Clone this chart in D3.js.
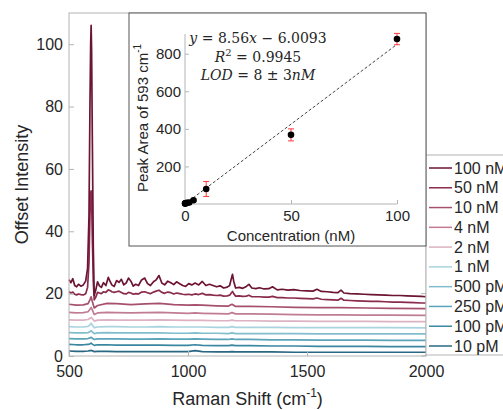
<!DOCTYPE html>
<html>
<head>
<meta charset="utf-8">
<script src="https://cdn.jsdelivr.net/npm/d3@7"></script>
<style>
  body { margin: 0; background: #fff; }
  text { fill: #262626; }
</style>
</head>
<body>
<div id="chart"></div>
<script>
// Raman shift grids (cm-1)
const shiftDense = [500,508,516,524,532,540,550,560,570,578,584,588,591,593,595,598,602,606,612,620,628,636,645,655,665,672,680,690,700,710,720,730,740,750,760,770,780,792,805,818,830,842,855,866,878,890,902,915,928,940,952,965,978,990,1003,1016,1030,1045,1060,1075,1090,1105,1120,1135,1150,1165,1175,1182,1187,1192,1200,1215,1230,1245,1256,1268,1285,1300,1320,1340,1355,1375,1395,1420,1445,1470,1500,1525,1542,1560,1585,1610,1630,1643,1655,1680,1710,1740,1770,1800,1830,1860,1890,1920,1950,1980,2000];
const shiftSparse = [500,530,560,580,588,593,598,606,620,660,700,760,820,880,940,1000,1030,1060,1120,1170,1185,1200,1260,1350,1450,1550,1640,1750,1850,2000];

// offset spectra
const spec100nM = [24.5,23.5,24.8,22.6,22.2,23.0,22.4,22.8,24.0,28,45,80,100,106,98,70,35,19.5,21,23.8,22.5,22.0,23.5,22.6,25.2,24.0,22.8,22.3,24.2,23.6,24.6,22.8,23.4,25.0,24.0,22.4,23.0,22.6,24.4,25.0,23.2,22.6,23.8,24.4,25.8,23.4,22.8,24.0,23.5,22.9,23.8,23.2,22.6,22.3,23.2,22.8,23.4,22.8,23.9,22.6,23.0,22.6,22.2,22.5,21.8,22.1,22.6,24.8,26.2,24.0,21.8,22.0,21.7,22.3,23.0,21.8,21.6,21.9,21.5,21.6,22.2,21.2,21.4,21.1,21.3,21.0,20.9,20.8,21.4,20.7,20.6,20.4,20.3,21.1,20.2,20.0,19.9,19.8,19.7,19.6,19.5,19.4,19.4,19.3,19.2,19.1,19.0];
const spec50nM = [20.6,20.2,20.5,19.8,19.6,19.9,19.7,19.6,20.0,22,30,45,52,53,50,38,24,18,18.8,20.4,20.2,20.0,20.6,20.4,21.2,21.0,20.6,20.4,20.6,20.8,20.4,20.0,19.9,20.4,20.2,19.8,20.0,19.9,20.5,20.6,20.3,20.0,20.5,20.8,21.1,20.4,20.1,20.5,20.3,19.9,20.2,20.0,19.8,19.7,19.8,19.6,19.9,19.7,20.1,19.6,19.7,19.5,19.4,19.5,19.2,19.3,19.5,20.2,20.7,20.0,19.2,19.3,19.1,19.2,19.5,19.0,19.0,19.0,18.9,18.9,19.1,18.7,18.7,18.6,18.6,18.5,18.4,18.3,18.6,18.2,18.1,18.0,17.9,18.5,17.9,17.8,17.7,17.6,17.5,17.5,17.4,17.3,17.3,17.2,17.1,17.0,17.0];
const spec10nM = [16.6,16.3,16.4,16.8,18.0,19.0,17.5,15.4,16.2,16.9,16.8,16.5,16.7,16.9,16.5,16.3,16.4,16.3,16.1,16.0,16.6,15.9,15.9,15.8,15.6,15.5,15.5,15.4,15.3,15.2];
const spec4nM = [14.0,13.8,13.9,14.2,15.0,15.6,14.8,13.3,13.8,14.0,13.9,13.8,13.9,14.0,13.8,13.7,13.8,13.7,13.6,13.5,13.9,13.5,13.5,13.4,13.3,13.2,13.2,13.1,13.1,13.0];
const spec2nM = [11.6,11.5,11.5,11.7,12.1,12.4,12.0,11.2,11.5,11.6,11.5,11.5,11.5,11.6,11.5,11.4,11.4,11.4,11.3,11.3,11.5,11.3,11.3,11.2,11.2,11.1,11.1,11.1,11.0,11.0];
const spec1nM = [9.4,9.3,9.3,9.5,10.0,10.5,9.9,9.1,9.3,9.4,9.4,9.3,9.3,9.4,9.3,9.3,9.3,9.3,9.2,9.2,9.4,9.2,9.2,9.2,9.1,9.1,9.1,9.1,9.1,9.0];
const spec500pM = [7.5,7.4,7.4,7.5,7.8,8.1,7.7,7.2,7.4,7.5,7.4,7.4,7.4,7.4,7.3,7.3,7.4,7.3,7.3,7.2,7.4,7.2,7.2,7.2,7.2,7.1,7.1,7.1,7.1,7.1];
const spec250pM = [5.6,5.5,5.5,5.6,5.8,6.0,5.7,5.3,5.5,5.5,5.5,5.4,5.4,5.5,5.4,5.4,5.5,5.4,5.3,5.3,5.5,5.3,5.3,5.2,5.2,5.1,5.1,5.1,5.0,5.0];
const spec100pM = [3.7,3.6,3.6,3.7,3.9,4.1,3.8,3.4,3.6,3.6,3.5,3.5,3.5,3.5,3.4,3.4,3.6,3.4,3.3,3.3,3.5,3.3,3.3,3.2,3.2,3.1,3.1,3.1,3.0,3.0];
const spec10pM = [1.6,1.5,1.5,1.6,1.7,1.8,1.7,1.4,1.5,1.5,1.4,1.4,1.4,1.4,1.4,1.4,1.7,1.4,1.3,1.3,1.4,1.3,1.3,1.3,1.2,1.2,1.2,1.2,1.2,1.2];

const seriesLabels = ['100 nM','50 nM','10 nM','4 nM','2 nM','1 nM','500 pM','250 pM','100 pM','10 pM'];
const seriesColors = ['#6c1434','#8a2b4d','#a6506f','#c07c94','#ddb2c2','#a9d3df','#82bdcd','#5ba4ba','#3b87a1','#2a6783'];
const xTicks = [500, 1000, 1500, 2000];
const yTicks = [0, 20, 40, 60, 80, 100];

// inset calibration
const insetConc = [0.01, 0.1, 0.25, 0.5, 1, 2, 4, 10, 50, 100];
const insetArea = [2, 3, 4, 5, 6, 8, 20, 80, 368, 878];
const insetErr = [3, 3, 3, 3, 4, 4, 6, 40, 32, 30];
const insetXTicks = [0, 50, 100];
const insetYTicks = [200, 400, 600, 800];
const fitSlope = 8.56;
const fitIntercept = -6.0093;

const sansFont = '"Liberation Sans", Arial, sans-serif';
const mathFont = '"DejaVu Serif", "Liberation Serif", serif';

const spectra = [
    { shift: shiftDense, values: spec100nM },
    { shift: shiftDense, values: spec50nM },
    { shift: shiftSparse, values: spec10nM },
    { shift: shiftSparse, values: spec4nM },
    { shift: shiftSparse, values: spec2nM },
    { shift: shiftSparse, values: spec1nM },
    { shift: shiftSparse, values: spec500pM },
    { shift: shiftSparse, values: spec250pM },
    { shift: shiftSparse, values: spec100pM },
    { shift: shiftSparse, values: spec10pM }
].map((s, i) => ({ label: seriesLabels[i], color: seriesColors[i], points: d3.zip(s.shift, s.values) }));

const width = 503, height = 410;
const frame = '#b4b4b4';

const svg = d3.select('#chart').append('svg')
    .attr('width', width).attr('height', height)
    .style('font-family', sansFont);

// main axes
const x = d3.scaleLinear().domain([500, 2000]).range([69, 426]);
const y = d3.scaleLinear().domain([0, 110]).range([356, 13]);

const line = d3.line().x(d => x(d[0])).y(d => y(d[1]));

// lowest series first so the top spectra sit on top
svg.append('g').selectAll('path')
    .data(spectra.slice().reverse())
    .join('path')
    .attr('d', d => line(d.points))
    .attr('fill', 'none')
    .attr('stroke', d => d.color)
    .attr('stroke-width', 1.7)
    .attr('stroke-linejoin', 'round');

function styleAxis(g, size) {
    g.select('.domain').remove();
    g.selectAll('.tick line').attr('stroke', frame);
    g.selectAll('.tick text').style('font-size', size + 'px').style('font-family', sansFont)
        .attr('fill', '#262626');
}

svg.append('g')
    .attr('transform', `translate(0,${y(0)})`)
    .call(d3.axisBottom(x).tickValues(xTicks).tickFormat(d3.format('d'))
        .tickSizeInner(-5).tickSizeOuter(0).tickPadding(10))
    .call(g => styleAxis(g, 16));

svg.append('g')
    .attr('transform', `translate(${x(500)},0)`)
    .call(d3.axisLeft(y).tickValues(yTicks).tickSizeInner(-5).tickSizeOuter(0).tickPadding(6))
    .call(g => styleAxis(g, 16));

// right ticks of the main box
svg.append('g').selectAll('line')
    .data(yTicks)
    .join('line')
    .attr('x1', x(2000)).attr('x2', x(2000) - 5)
    .attr('y1', d => y(d)).attr('y2', d => y(d))
    .attr('stroke', frame);

svg.append('rect')
    .attr('x', x(500)).attr('y', y(110))
    .attr('width', x(2000) - x(500)).attr('height', y(0) - y(110))
    .attr('fill', 'none').attr('stroke', frame);

svg.append('text')
    .attr('x', (x(500) + x(2000)) / 2).attr('y', 405)
    .attr('text-anchor', 'middle').style('font-size', '18px')
    .call(t => {
        t.append('tspan').text('Raman Shift (cm');
        t.append('tspan').style('font-size', '12px').attr('dy', -8).text('-1');
        t.append('tspan').attr('dy', 8).text(')');
    });

svg.append('text')
    .attr('transform', `translate(28,${(y(0) + y(110)) / 2}) rotate(-90)`)
    .attr('text-anchor', 'middle').style('font-size', '18px')
    .text('Offset Intensity');

// legend (runs off the right edge, as in the original)
const legend = svg.append('g');
legend.append('rect')
    .attr('x', 426).attr('y', 155).attr('width', 90).attr('height', 200)
    .attr('fill', '#fff').attr('stroke', frame);

const legendRow = d3.scaleLinear().domain([0, seriesLabels.length - 1]).range([168, 346]);
const rows = legend.selectAll('g.item')
    .data(spectra)
    .join('g').attr('class', 'item')
    .attr('transform', (d, i) => `translate(0,${legendRow(i)})`);
rows.append('line')
    .attr('x1', 429).attr('x2', 452)
    .attr('stroke', d => d.color).attr('stroke-width', 1.5);
rows.append('text')
    .attr('x', 454).attr('y', 5.5)
    .style('font-size', '16px')
    .text(d => d.label);

// inset
const inset = svg.append('g');
inset.append('rect')
    .attr('x', 129).attr('y', 13).attr('width', 297).attr('height', 233)
    .attr('fill', '#fff').attr('stroke', '#555').attr('stroke-width', 1);

const ix = d3.scaleLinear().domain([0, 100]).range([185, 397]);
const iy = d3.scaleLinear().domain([0, 905]).range([204, 34]);

inset.append('line')
    .attr('x1', ix(0)).attr('x2', ix(100)).attr('y1', 204).attr('y2', 204)
    .attr('stroke', frame);
inset.append('line')
    .attr('x1', ix(0)).attr('x2', ix(0)).attr('y1', 34).attr('y2', 204)
    .attr('stroke', frame);

inset.append('g')
    .attr('transform', 'translate(0,204)')
    .call(d3.axisBottom(ix).tickValues(insetXTicks).tickSizeInner(-4).tickSizeOuter(0).tickPadding(6))
    .call(g => styleAxis(g, 15));

inset.append('g')
    .attr('transform', `translate(${ix(0)},0)`)
    .call(d3.axisLeft(iy).tickValues(insetYTicks).tickSizeInner(-4).tickSizeOuter(0).tickPadding(4))
    .call(g => styleAxis(g, 15));

inset.append('text')
    .attr('x', (ix(0) + ix(100)) / 2).attr('y', 241)
    .attr('text-anchor', 'middle').style('font-size', '15px')
    .text('Concentration (nM)');

inset.append('text')
    .attr('transform', 'translate(148,118) rotate(-90)')
    .attr('text-anchor', 'middle').style('font-size', '15px')
    .call(t => {
        t.append('tspan').text('Peak Area of 593 cm');
        t.append('tspan').style('font-size', '10px').attr('dy', -7).text('-1');
    });

// fit line
inset.append('line')
    .attr('x1', ix(0)).attr('y1', iy(Math.max(0, fitIntercept)))
    .attr('x2', ix(100)).attr('y2', iy(fitSlope * 100 + fitIntercept))
    .attr('stroke', '#444').attr('stroke-width', 1)
    .attr('stroke-dasharray', '3,2');

const calib = d3.zip(insetConc, insetArea, insetErr);
const err = inset.append('g').attr('stroke', '#ff3b3b').attr('stroke-width', 1);
err.selectAll('line.bar').data(calib).join('line').attr('class', 'bar')
    .attr('x1', d => ix(d[0])).attr('x2', d => ix(d[0]))
    .attr('y1', d => iy(d[1] - d[2])).attr('y2', d => iy(d[1] + d[2]));
err.selectAll('line.capTop').data(calib).join('line').attr('class', 'capTop')
    .attr('x1', d => ix(d[0]) - 3).attr('x2', d => ix(d[0]) + 3)
    .attr('y1', d => iy(d[1] + d[2])).attr('y2', d => iy(d[1] + d[2]));
err.selectAll('line.capBot').data(calib).join('line').attr('class', 'capBot')
    .attr('x1', d => ix(d[0]) - 3).attr('x2', d => ix(d[0]) + 3)
    .attr('y1', d => iy(d[1] - d[2])).attr('y2', d => iy(d[1] - d[2]));

inset.append('g').selectAll('circle')
    .data(calib).join('circle')
    .attr('cx', d => ix(d[0])).attr('cy', d => iy(d[1]))
    .attr('r', 3.3).attr('fill', '#000');

// equation block
const eq = inset.append('g')
    .style('font-family', mathFont)
    .style('font-size', '14px');
const eqX = 258;
eq.append('text').attr('x', eqX).attr('y', 43).attr('text-anchor', 'middle')
    .call(t => {
        t.append('tspan').style('font-style', 'italic').text('y');
        t.append('tspan').text(' = 8.56');
        t.append('tspan').style('font-style', 'italic').text('x');
        t.append('tspan').text(' \u2212 6.0093');
    });
eq.append('text').attr('x', eqX).attr('y', 62).attr('text-anchor', 'middle')
    .call(t => {
        t.append('tspan').style('font-style', 'italic').text('R');
        t.append('tspan').style('font-size', '10px').attr('dy', -6).text('2');
        t.append('tspan').attr('dy', 6).text(' = 0.9945');
    });
eq.append('text').attr('x', eqX).attr('y', 80).attr('text-anchor', 'middle')
    .call(t => {
        t.append('tspan').style('font-style', 'italic').text('LOD');
        t.append('tspan').text(' = 8 \u00b1 3');
        t.append('tspan').style('font-style', 'italic').text('nM');
    });
</script>
</body>
</html>
